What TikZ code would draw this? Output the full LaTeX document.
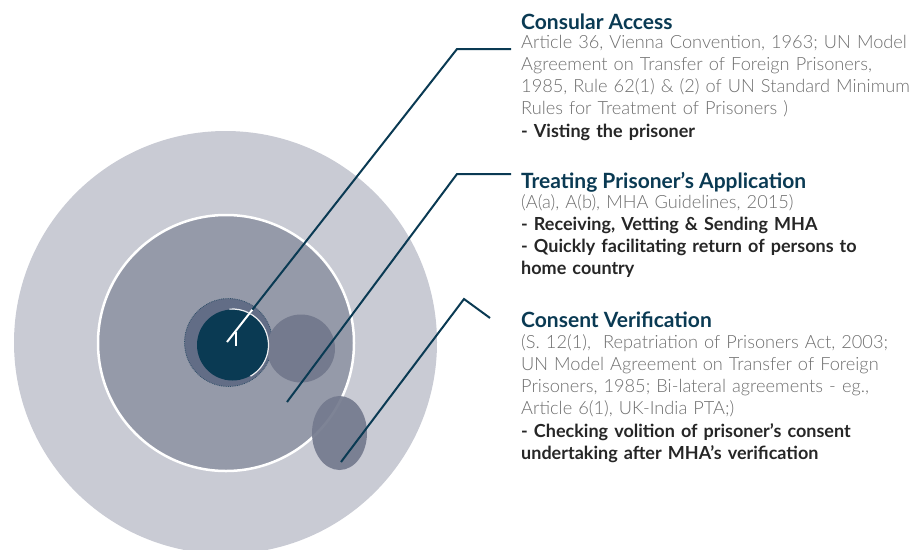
\documentclass[tikz,border=0pt]{standalone}
\usepackage{fontspec}
\setmainfont{Lato}
\newfontfamily\lightfont{Lato Light}
\usetikzlibrary{positioning,calc}

\definecolor{navy}{HTML}{0A3A53}
\definecolor{ringout}{HTML}{C9CBD4}
\definecolor{ringmid}{HTML}{959AA9}
\definecolor{blob}{HTML}{747A8E}
\definecolor{halo}{HTML}{626D86}
\definecolor{bodygray}{HTML}{6E6E6E}
\definecolor{keydark}{HTML}{262626}

\newcommand{\keypoint}[1]{{\normalfont\bfseries\fontsize{18}{22.3}\selectfont\color{keydark}#1}}

\begin{document}
\begin{tikzpicture}[x=1pt,y=-1pt,
  heading/.style={anchor=base west,inner sep=0pt,font=\bfseries\fontsize{21}{24}\selectfont,text=navy},
  body/.style={anchor=base west,inner sep=0pt,text width=400pt,align=left,font=\lightfont\fontsize{18.2}{22.3}\selectfont,text=bodygray},
  lead/.style={navy,line width=2pt}]
\useasboundingbox (0,0) rectangle (915,549);

% rings
\fill[ringout] (225.5,342.5) circle[radius=211.5pt];
\filldraw[ringmid,draw=white,line width=2.5pt] (226,343) circle[radius=128pt];
\filldraw[halo,draw=navy!55!halo,densely dotted,line width=0.8pt] (228.5,342.5) circle[radius=44pt];
\fill[blob] (301,348.5) circle[radius=34pt];
\fill[navy] (232.5,345) circle[radius=35.5pt];
\draw[white!85!ringmid,line width=1.2pt] (232.5,345) ++(-60:36pt) arc[start angle=-60,end angle=95,radius=36pt];
\fill[blob,fill opacity=0.92] (339.5,433) ellipse[x radius=27.5pt,y radius=37pt];

% leaders
\coordinate (ca-start) at (227,342);
\coordinate (ca-bend)  at (457,49);
\coordinate (ca-end)   at (511,49);
\coordinate (tp-start) at (287,402);
\coordinate (tp-bend)  at (457,174);
\coordinate (tp-end)   at (511,174);
\coordinate (cv-start) at (341,462);
\coordinate (cv-bend)  at (464,299);
\coordinate (cv-end)   at (490,318);

\draw[lead] (ca-start) -- (ca-bend) -- (ca-end);
\draw[white,line width=2pt] (ca-start) -- ($(ca-start)!0.11!(ca-bend)$);
\draw[white,line width=1.5pt] (236,332) -- (236,346);
\draw[lead] (tp-start) -- (tp-bend) -- (tp-end);
\draw[lead] (cv-start) -- (cv-bend) -- (cv-end);

% texts
\node[heading] (consular) at (521,29) {Consular Access};
\node[body] (consular-text) at (521,48) {Article 36, Vienna Convention, 1963; UN Model\\
  Agreement on Transfer of Foreign Prisoners,\\
  1985, Rule 62(1) \& (2) of UN Standard Minimum\\
  Rules for Treatment of Prisoners )\\
  \keypoint{- Visting the prisoner}};

\node[heading] (treating) at (521,188) {Treating Prisoner’s Application};
\node[body] (treating-text) at (521,208) {(A(a), A(b), MHA Guidelines, 2015)\\
  \keypoint{- Receiving, Vetting \& Sending MHA}\\
  \keypoint{- Quickly facilitating return of persons to}\\
  \keypoint{home country}};

\node[heading] (consent) at (521,327) {Consent Verification};
\node[body] (consent-text) at (521,348) {(S. 12(1), \ Repatriation of Prisoners Act, 2003;\\
  UN Model Agreement on Transfer of Foreign\\
  Prisoners, 1985; Bi-lateral agreements - eg.,\\
  Article 6(1), UK-India PTA;)\\
  \keypoint{- Checking volition of prisoner’s consent}\\
  \keypoint{undertaking after MHA’s verification}};
\end{tikzpicture}
\end{document}
